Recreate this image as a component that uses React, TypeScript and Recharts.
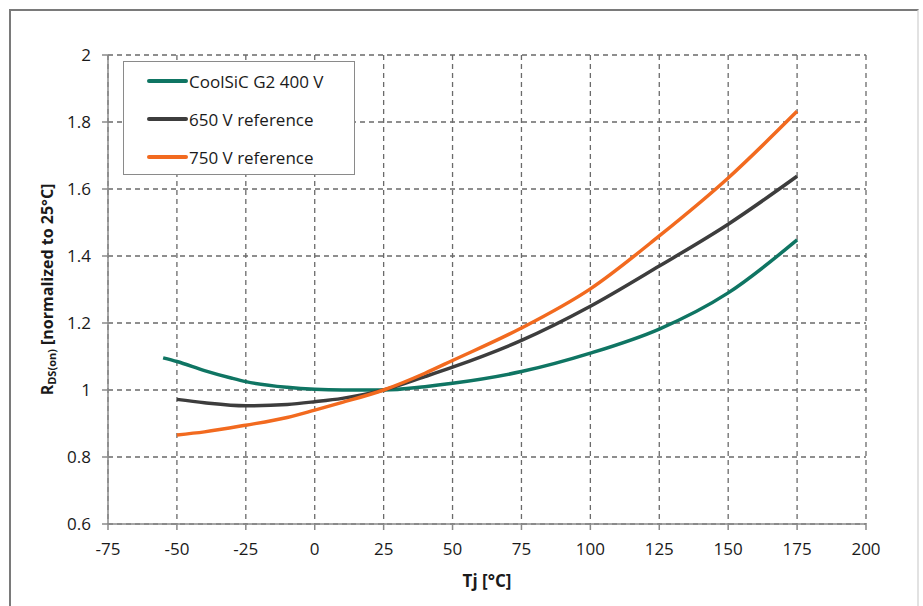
import React from "react";
import { LineChart, Line, XAxis, YAxis, CartesianGrid } from "recharts";

const tempsCoolSiC = [-55, -50, -40, -30, -25, -10, 0, 10, 25, 40, 50, 75, 100, 125, 150, 175];
const rdsCoolSiC = [1.096, 1.085, 1.058, 1.035, 1.025, 1.008, 1.002, 1.0, 1.0, 1.01, 1.02, 1.055, 1.11, 1.182, 1.29, 1.448];

const temps650 = [-50, -40, -25, -10, 0, 10, 25, 40, 50, 75, 100, 125, 150, 175];
const rds650 = [0.972, 0.962, 0.953, 0.957, 0.965, 0.975, 1.0, 1.04, 1.068, 1.148, 1.25, 1.37, 1.495, 1.638];

const temps750 = [-50, -40, -25, -10, 0, 10, 25, 40, 50, 75, 100, 125, 150, 175];
const rds750 = [0.866, 0.875, 0.895, 0.918, 0.94, 0.963, 1.0, 1.05, 1.088, 1.185, 1.302, 1.46, 1.633, 1.832];

const xTicks = [-75, -50, -25, 0, 25, 50, 75, 100, 125, 150, 175, 200];
const yTicks = [0.6, 0.8, 1, 1.2, 1.4, 1.6, 1.8, 2];

const seriesNames = ["CoolSiC G2 400 V", "650 V reference", "750 V reference"];
const seriesColors = ["#0f7563", "#3d3d3d", "#f26a1f"];

const toPoints = (xs: number[], ys: number[]) => xs.map((t, i) => ({ t, r: ys[i] }));

const series = [
  toPoints(tempsCoolSiC, rdsCoolSiC),
  toPoints(temps650, rds650),
  toPoints(temps750, rds750),
];

const FONT = "'Open Sans', sans-serif";

// legend drawn as a plain box over the plot, like the original
function LegendBox() {
  return (
    <div
      style={{
        position: "absolute",
        left: 123,
        top: 61,
        width: 230,
        height: 112,
        border: "1.5px solid #8a8a8a",
        background: "#fff",
        fontFamily: FONT,
        fontSize: 17,
        color: "#1a1a1a",
      }}
    >
      {seriesNames.map((name, i) => (
        <div
          key={name}
          style={{ position: "absolute", left: 23, top: 7 + i * 38, height: 24, display: "flex", alignItems: "center", whiteSpace: "nowrap" }}
        >
          <span style={{ display: "inline-block", width: 41, height: 4, borderRadius: 2, background: seriesColors[i] }} />
          <span style={{ marginLeft: 1 }}>{name}</span>
        </div>
      ))}
    </div>
  );
}

function YLabel({ viewBox }: any) {
  const cx = 47;
  const cy = viewBox.y + viewBox.height / 2;
  return (
    <text
      x={cx}
      y={cy}
      transform={`rotate(-90 ${cx} ${cy})`}
      textAnchor="middle"
      dominantBaseline="central"
      fontFamily={FONT}
      fontWeight={700}
      fontSize={16}
      fill="#1a1a1a"
    >
      R<tspan fontSize={11} dy={4}>DS(on)</tspan>
      <tspan dy={-4}> [normalized to 25°C]</tspan>
    </text>
  );
}

function XLabel({ viewBox }: any) {
  const cx = viewBox.x + viewBox.width / 2;
  return (
    <text
      x={cx}
      y={580}
      textAnchor="middle"
      dominantBaseline="central"
      fontFamily={FONT}
      fontWeight={700}
      fontSize={17}
      fill="#1a1a1a"
    >
      Tj [°C]
    </text>
  );
}

export default function App() {
  return (
    <div style={{ position: "fixed", left: 0, top: 0, width: 923, height: 606, background: "#fff" }}>
      <div
        style={{
          position: "absolute",
          left: 9,
          top: 9,
          width: 906,
          height: 620,
          borderTop: "2px solid #7a7a7a",
          borderLeft: "2px solid #7a7a7a",
          borderRight: "2px solid #e2e2e2",
        }}
      />
      <div style={{ position: "absolute", left: 0, top: 0 }}>
        <LineChart width={923} height={606} margin={{ top: 55, right: 57, bottom: 52, left: 48 }}>
          <CartesianGrid stroke="#6a6a6a" strokeDasharray="5 4" strokeWidth={1.3} />
          <XAxis
            type="number"
            dataKey="t"
            domain={[-75, 200]}
            ticks={xTicks}
            height={30}
            allowDuplicatedCategory={false}
            stroke="#8a8a8a"
            strokeWidth={1.5}
            tickSize={6}
            tickMargin={13}
            tick={{ fill: "#1a1a1a", fontSize: 17, fontFamily: FONT }}
            label={<XLabel />}
          />
          <YAxis
            type="number"
            domain={[0.6, 2]}
            ticks={yTicks}
            width={60}
            stroke="#8a8a8a"
            strokeWidth={1.5}
            tickSize={6}
            tickMargin={11}
            tickFormatter={(v: number) => String(Math.round(v * 10) / 10)}
            tick={{ fill: "#1a1a1a", fontSize: 17, fontFamily: FONT }}
            label={<YLabel />}
          />
          {series.map((d, i) => (
            <Line
              key={seriesNames[i]}
              data={d}
              dataKey="r"
              name={seriesNames[i]}
              type="monotone"
              stroke={seriesColors[i]}
              strokeWidth={3.5}
              dot={false}
              activeDot={false}
              isAnimationActive={false}
            />
          ))}
        </LineChart>
      </div>
      <LegendBox />
    </div>
  );
}
